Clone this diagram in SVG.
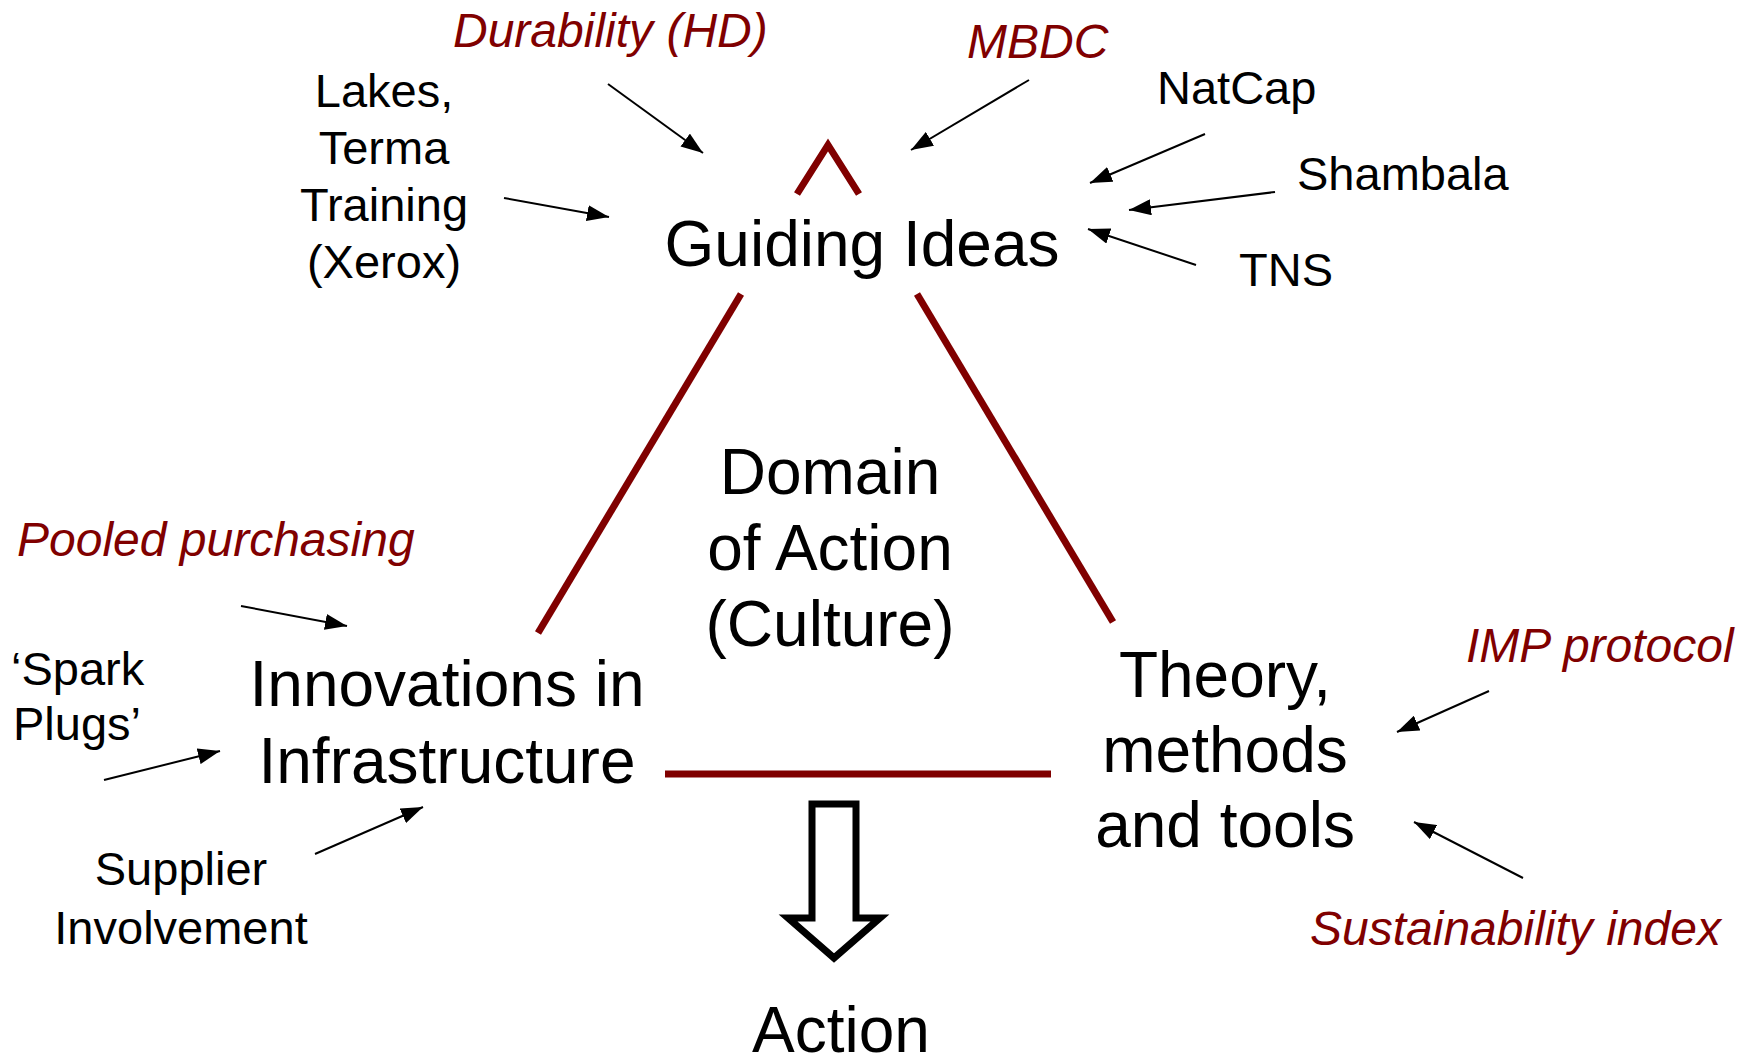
<svg xmlns="http://www.w3.org/2000/svg" width="1753" height="1060" viewBox="0 0 1753 1060">
<defs>
<style>
text{font-family:"Liberation Sans",Arial,sans-serif;fill:#000}
.sm{font-size:47px}
.it{font-size:48px;font-style:italic;fill:#800000}
.lg{font-size:64px}
.c{text-anchor:middle}
.arr{stroke:#000;stroke-width:2;fill:none;marker-end:url(#ah)}
.tri{stroke:#800000;stroke-width:7;fill:none}
</style>
<marker id="ah" viewBox="0 0 22 16" refX="22" refY="8" markerWidth="22" markerHeight="16" markerUnits="userSpaceOnUse" orient="auto">
<path d="M0,0 L22,8 L0,16 Z" fill="#000"/>
</marker>
</defs>
<rect width="1753" height="1060" fill="#fff"/>

<g id="triangle">
<polyline class="tri" points="797,194 828,145 859,194"/>
<line class="tri" x1="741" y1="294" x2="538" y2="633"/>
<line class="tri" x1="917" y1="294" x2="1113" y2="622"/>
<line class="tri" x1="665" y1="774" x2="1051" y2="774"/>
</g>

<g id="guiding-ideas"><text class="lg c" x="862" y="266">Guiding Ideas</text></g>
<g id="domain"><text class="lg c" x="830" y="494">Domain</text><text class="lg c" x="830" y="570">of Action</text><text class="lg c" x="830" y="646">(Culture)</text></g>
<g id="innovations"><text class="lg c" x="447" y="706">Innovations in</text><text class="lg c" x="447" y="783">Infrastructure</text></g>
<g id="theory"><text class="lg c" x="1225" y="697">Theory,</text><text class="lg c" x="1225" y="772">methods</text><text class="lg c" x="1225" y="847">and tools</text></g>
<g id="action"><text class="lg c" x="841" y="1052">Action</text></g>

<g id="lakes"><text class="sm c" x="384" y="107">Lakes,</text><text class="sm c" x="384" y="164">Terma</text><text class="sm c" x="384" y="221">Training</text><text class="sm c" x="384" y="278">(Xerox)</text></g>
<g id="durability"><text class="it" x="453" y="47">Durability (HD)</text></g>
<g id="mbdc"><text class="it" x="967" y="58">MBDC</text></g>
<g id="natcap"><text class="sm" x="1157" y="104">NatCap</text></g>
<g id="shambala"><text class="sm" x="1297" y="190">Shambala</text></g>
<g id="tns"><text class="sm" x="1239" y="286">TNS</text></g>
<g id="pooled"><text class="it" x="17" y="556">Pooled purchasing</text></g>
<g id="spark"><text class="sm" x="11" y="685">‘Spark</text><text class="sm" x="13" y="740">Plugs’</text></g>
<g id="supplier"><text class="sm c" x="181" y="885">Supplier</text><text class="sm c" x="181" y="944">Involvement</text></g>
<g id="imp"><text class="it" x="1466" y="662">IMP protocol</text></g>
<g id="sustainability"><text class="it" x="1310" y="945">Sustainability index</text></g>

<g id="block-arrow">
<polygon points="812,804 856,804 856,918 880,918 834,958 788,918 812,918" fill="#fff" stroke="#000" stroke-width="7" stroke-linejoin="miter"/>
</g>

<g id="connectors">
<line class="arr" x1="608" y1="84" x2="703" y2="153"/>
<line class="arr" x1="504" y1="198" x2="609" y2="217"/>
<line class="arr" x1="1029" y1="80" x2="911" y2="150"/>
<line class="arr" x1="1205" y1="134" x2="1090" y2="183"/>
<line class="arr" x1="1275" y1="192" x2="1129" y2="210"/>
<line class="arr" x1="1196" y1="265" x2="1088" y2="229"/>
<line class="arr" x1="241" y1="606" x2="347" y2="626"/>
<line class="arr" x1="104" y1="780" x2="220" y2="751"/>
<line class="arr" x1="315" y1="854" x2="423" y2="807"/>
<line class="arr" x1="1489" y1="691" x2="1397" y2="732"/>
<line class="arr" x1="1523" y1="878" x2="1414" y2="822"/>
</g>
</svg>
